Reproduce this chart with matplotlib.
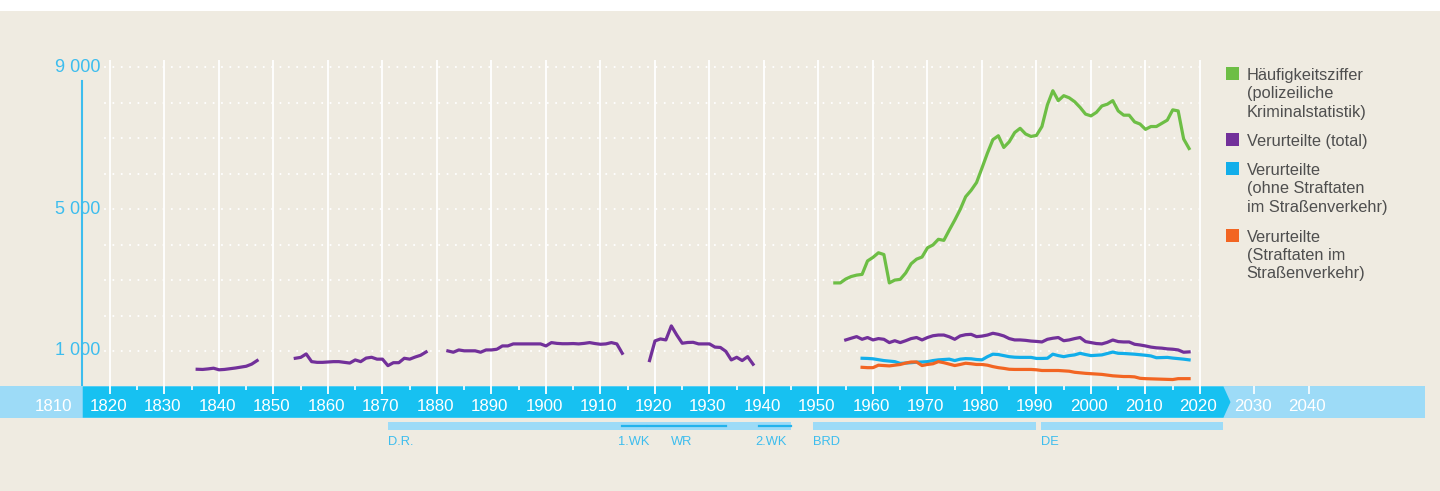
import numpy as np
import matplotlib.pyplot as plt
from matplotlib.patches import Rectangle

plt.rcParams['font.family'] = ['Liberation Sans', 'DejaVu Sans']

# ---- data ----
years_total_1 = list(range(1836, 1848))
total_1 = [485, 480, 495, 515, 470, 480, 500, 520, 545, 570, 630, 730]

years_total_2 = list(range(1854, 1879))
total_2 = [795, 820, 917, 700, 680, 680, 690, 700, 700, 680, 660, 748, 700,
           800, 823, 770, 770, 587, 670, 670, 795, 770, 830, 880, 973]

years_total_3 = list(range(1882, 1915))
total_3 = [1002, 965, 1030, 1005, 1005, 1005, 965, 1030, 1030, 1050, 1143,
           1143, 1200, 1200, 1200, 1200, 1200, 1200, 1143, 1237, 1215, 1205,
           1205, 1210, 1200, 1215, 1237, 1210, 1190, 1200, 1237, 1200, 935]

years_total_4 = list(range(1919, 1939))
total_4 = [730, 1284, 1340, 1312, 1708, 1450, 1219, 1240, 1245, 1200, 1200,
           1200, 1110, 1100, 990, 748, 823, 730, 840, 626]

years_total_5 = list(range(1955, 2019))
total_5 = [1312, 1360, 1406, 1330, 1380, 1312, 1350, 1330, 1237, 1290, 1237,
           1290, 1350, 1380, 1312, 1380, 1430, 1450, 1450, 1400, 1330, 1425,
           1460, 1470, 1405, 1420, 1450, 1500, 1470, 1425, 1350, 1312, 1312,
           1300, 1280, 1270, 1255, 1330, 1360, 1380, 1290, 1312, 1350, 1380,
           1265, 1237, 1210, 1200, 1245, 1310, 1265, 1255, 1255, 1190, 1170,
           1143, 1110, 1090, 1080, 1060, 1050, 1030, 965, 975]

years_split = list(range(1958, 2019))
ohne_verkehr = [795, 790, 780, 755, 730, 715, 700, 650, 660, 670, 685, 690,
                700, 730, 750, 760, 770, 730, 770, 785, 780, 760, 750, 840,
                910, 900, 870, 840, 825, 820, 820, 820, 790, 790, 795, 910,
                870, 840, 870, 890, 935, 900, 870, 880, 890, 930, 970, 935,
                930, 920, 910, 895, 880, 860, 810, 815, 820, 800, 785, 770, 750]
verkehr = [540, 530, 530, 600, 590, 580, 600, 620, 660, 690, 690, 590, 620,
           640, 700, 670, 630, 590, 620, 655, 640, 620, 620, 600, 560, 530,
           510, 485, 480, 480, 480, 480, 470, 450, 450, 450, 450, 440, 430,
           400, 385, 370, 360, 350, 340, 320, 300, 290, 280, 280, 270, 230,
           220, 215, 210, 205, 200, 195, 220, 220, 220]

years_hz = list(range(1953, 2019))
haeufigkeit = [2920, 2920, 3030, 3100, 3140, 3160, 3540, 3640, 3770, 3720,
               2920, 3000, 3020, 3200, 3460, 3590, 3650, 3910, 3990, 4150,
               4120, 4410, 4690, 4990, 5350, 5530, 5750, 6160, 6580, 6960,
               7070, 6740, 6900, 7160, 7280, 7120, 7050, 7080, 7330, 7940,
               8340, 8060, 8200, 8140, 8030, 7870, 7680, 7630, 7730, 7910,
               7960, 8060, 7770, 7650, 7650, 7460, 7400, 7250, 7330, 7330,
               7420, 7510, 7800, 7770, 6980, 6710]

y_ticks = [1000, 5000, 9000]
y_ticklabels = ["1 000", "5 000", "9 000"]
grid_values = list(range(1000, 10000, 1000))
decades = list(range(1810, 2041, 10))

periods = [("D.R.", 1871, 1945), ("BRD", 1949, 1990), ("DE", 1990.8, 2024.3)]
sub_periods = [("1.WK", 1914, 1918.3, 1913.2), ("WR", 1918.7, 1933, 1922.9),
               ("2.WK", 1939, 1945, 1938.5)]

legend_entries = [
    ("#6dbe45", ["Häufigkeitsziffer", "(polizeiliche", "Kriminalstatistik)"]),
    ("#72309a", ["Verurteilte (total)"]),
    ("#12aeea", ["Verurteilte", "(ohne Straftaten", "im Straßenverkehr)"]),
    ("#f26522", ["Verurteilte", "(Straftaten im", "Straßenverkehr)"]),
]

# ---- colours ----
BEIGE = "#efebe1"
BAR_DARK = "#17c1f1"
BAR_LIGHT = "#9ddbf7"
LABEL_BLUE = "#3dbdee"
TEXT_GREY = "#4f4f4f"
GREEN, PURPLE, BLUE, ORANGE = [c for c, _ in legend_entries]

W, H = 1440, 491
fig = plt.figure(figsize=(W / 100, H / 100), dpi=100, facecolor="white")
ax = fig.add_axes([0, 0, 1, 1])
ax.set_facecolor("none")
ax.axis("off")

# year <-> pixel scale of the drawing
X0, X1 = 1799.82, 2064.04
Y0, Y1 = -2948, 10898
ax.set_xlim(X0, X1)
ax.set_ylim(Y0, Y1)

# beige panel below a thin white strip at the top
ax.add_patch(Rectangle((0, 0), 1, 1 - 11 / H, transform=ax.transAxes,
                       color=BEIGE, lw=0, zorder=0))

# grid
for v in grid_values:
    ax.plot([1819.1, 2021.1], [v, v], color="white", lw=1.5,
            dashes=(0.01, 4.0), dash_capstyle="round", zorder=1)
ax.vlines(range(1820, 2021, 10), -213, 9206, colors="white", lw=1.3, zorder=3)
ax.vlines(range(1825, 2016, 10), -100, 0, colors="white", lw=1.2, zorder=3)
ax.vlines([2030, 2040], -213, 0, colors="white", lw=1.2, zorder=3)

# left axis
ax.plot([1814.9, 1814.9], [8614, 0], color=LABEL_BLUE, lw=1.5, zorder=2)
for v, lab in zip(y_ticks, y_ticklabels):
    ax.text(1818.3, v, lab, color=LABEL_BLUE, fontsize=13,
            ha="right", va="center")

# timeline bar
ax.fill([X0, 2061.3, 2061.3, X0], [0, 0, -881, -881], color=BAR_LIGHT,
        lw=0, zorder=2)
ax.fill([1815, 2024.3, 2025.6, 2024.3, 1815], [0, 0, -440, -881, -881],
        color=BAR_DARK, lw=0, zorder=2)
for yr in decades:
    ax.text(yr - 0.3, -560, str(yr), color="white", fontsize=12.2,
            ha="center", va="center", zorder=4)

# political periods
for name, a, b in periods:
    ax.fill([a, b, b, a], [-994, -994, -1228, -1228], color=BAR_LIGHT,
            lw=0, zorder=2)
    ax.text(a, -1566, name, color=LABEL_BLUE, fontsize=9.3,
            ha="left", va="center")
for name, a, b, tx in sub_periods:
    ax.plot([a, b], [-1115, -1115], color="#22b3ec", lw=1.6, zorder=3)
    ax.text(tx, -1566, name, color=LABEL_BLUE, fontsize=9.3,
            ha="left", va="center")

# series
lw = 2.3
for yrs, vals in [(years_total_1, total_1), (years_total_2, total_2),
                  (years_total_3, total_3), (years_total_4, total_4),
                  (years_total_5, total_5)]:
    ax.plot(yrs, vals, color=PURPLE, lw=lw, zorder=5, solid_joinstyle="round")
ax.plot(years_split, ohne_verkehr, color=BLUE, lw=lw, zorder=5)
ax.plot(years_split, verkehr, color=ORANGE, lw=lw, zorder=5)
ax.plot(years_hz, haeufigkeit, color=GREEN, lw=lw, zorder=5)

# legend (squares aligned with first text line)
baselines = [80, 145.7, 175, 241.7]
for (col, lines), base in zip(legend_entries, baselines):
    fig.patches.append(Rectangle((1226 / W, 1 - base / H), 13 / W, 12.7 / H,
                                 transform=fig.transFigure, color=col, lw=0))
    for i, line in enumerate(lines):
        fig.text(1246.7 / W, 1 - (base + i * 18.3) / H, line,
                 color=TEXT_GREY, fontsize=11.8, ha="left", va="baseline")

fig.savefig("out.png", dpi=100, facecolor="white")
